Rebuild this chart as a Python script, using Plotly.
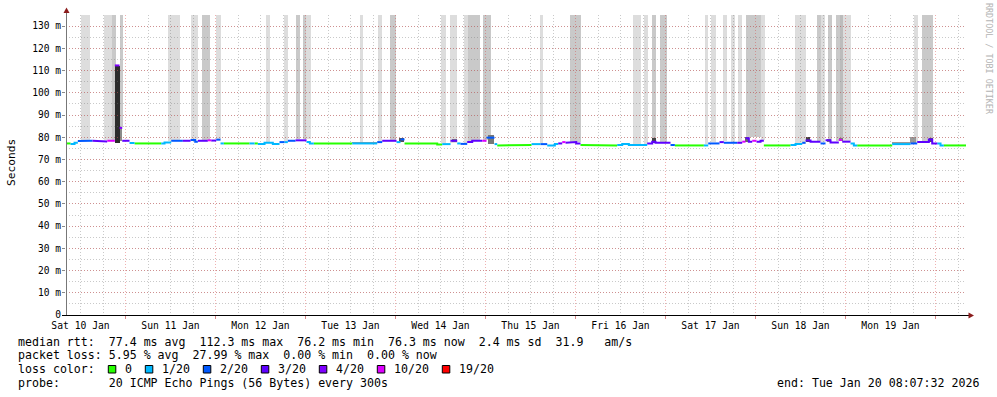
import numpy as np
import pandas as pd
import plotly.graph_objects as go

# ---------------- data ----------------
WINDOW_START = "2026-01-10 08:07:32"
WINDOW_END = "2026-01-20 08:07:32"

# median RTT step series: start time of each step, value (ms), lost pings out of 20
median_start = [
    "2026-01-10 08:07:32", "2026-01-10 09:20", "2026-01-10 10:24", "2026-01-10 11:17",
    "2026-01-10 12:11", "2026-01-10 15:12", "2026-01-10 18:24", "2026-01-10 19:07",
    "2026-01-10 21:09", "2026-01-10 22:24", "2026-01-10 23:07", "2026-01-11 01:04",
    "2026-01-11 02:24", "2026-01-11 09:31", "2026-01-11 10:24", "2026-01-11 12:11",
    "2026-01-11 15:17", "2026-01-11 17:20", "2026-01-11 18:35", "2026-01-11 19:17",
    "2026-01-11 21:57", "2026-01-11 22:51", "2026-01-12 00:11", "2026-01-12 01:20",
    "2026-01-12 02:13", "2026-01-12 09:04", "2026-01-12 10:24", "2026-01-12 11:17",
    "2026-01-12 13:04", "2026-01-12 15:17", "2026-01-12 17:04", "2026-01-12 18:24",
    "2026-01-12 19:17", "2026-01-12 21:20", "2026-01-13 00:16", "2026-01-13 01:09",
    "2026-01-13 02:13", "2026-01-13 12:27", "2026-01-13 19:07", "2026-01-13 20:27",
    "2026-01-14 00:16", "2026-01-14 01:20", "2026-01-14 02:24", "2026-01-14 11:07",
    "2026-01-14 12:27", "2026-01-14 14:40", "2026-01-14 16:27", "2026-01-14 17:20",
    "2026-01-14 19:07", "2026-01-14 20:27", "2026-01-14 23:07", "2026-01-15 00:16",
    "2026-01-15 02:24", "2026-01-15 03:07", "2026-01-15 09:20", "2026-01-15 12:16",
    "2026-01-15 14:40", "2026-01-15 16:27", "2026-01-15 18:29", "2026-01-15 19:23",
    "2026-01-15 20:27", "2026-01-15 21:20", "2026-01-15 23:17", "2026-01-16 00:11",
    "2026-01-16 01:20", "2026-01-16 02:13", "2026-01-16 11:07", "2026-01-16 12:27",
    "2026-01-16 14:13", "2026-01-16 19:07", "2026-01-16 20:27", "2026-01-16 21:20",
    "2026-01-17 01:20", "2026-01-17 02:29", "2026-01-17 10:13", "2026-01-17 11:23",
    "2026-01-17 14:24", "2026-01-17 15:33", "2026-01-17 19:07", "2026-01-17 20:27",
    "2026-01-17 21:20", "2026-01-17 22:13", "2026-01-17 23:07", "2026-01-18 00:16",
    "2026-01-18 01:20", "2026-01-18 02:13", "2026-01-18 09:20", "2026-01-18 10:40",
    "2026-01-18 12:27", "2026-01-18 13:20", "2026-01-18 14:40", "2026-01-18 17:20",
    "2026-01-18 18:40", "2026-01-18 20:00", "2026-01-18 22:13", "2026-01-18 23:07",
    "2026-01-19 01:20", "2026-01-19 02:13", "2026-01-19 03:07", "2026-01-19 12:27",
    "2026-01-19 17:20", "2026-01-19 19:07", "2026-01-19 22:13", "2026-01-19 23:07",
    "2026-01-20 00:27", "2026-01-20 01:20", "2026-01-20 02:13",
]
median_ms = [
    77.2, 76.9, 77.5, 78.3, 78.4, 78.4, 78.1, 78.4,
    112.3, 84.2, 78.4, 77.4, 77.2, 77.2, 77.6, 78.4,
    78.4, 78.7, 78.0, 78.4, 78.6, 78.5, 78.9, 77.2,
    77.2, 77.2, 77.2, 77.0, 77.5, 77.0, 77.8, 77.8,
    78.4, 78.6, 77.8, 77.2, 77.2, 77.2, 77.8, 78.4,
    77.8, 79.0, 77.2, 76.7, 76.9, 78.4, 77.2, 77.0,
    77.8, 78.4, 78.4, 79.8, 76.9, 76.3, 76.5, 76.9,
    76.9, 76.3, 76.9, 77.2, 77.8, 77.5, 77.8, 77.2,
    76.5, 76.3, 76.5, 76.9, 76.5, 77.2, 78.0, 77.5,
    76.5, 76.3, 76.3, 77.2, 77.8, 77.5, 77.5, 78.0,
    79.5, 78.0, 78.4, 78.0, 78.4, 76.3, 76.5, 76.9,
    77.5, 78.5, 78.0, 77.2, 78.6, 77.6, 78.8, 78.0,
    77.2, 76.3, 76.3, 76.9, 77.2, 77.8, 79.0, 77.2,
    77.2, 76.3, 76.3,
]
median_loss = [
    0, 1, 1, 2, 2, 3, 3, 10,
    4, 4, 3, 1, 0, 1, 1, 2,
    3, 2, 2, 3, 10, 3, 2, 1,
    0, 1, 0, 1, 1, 1, 2, 1,
    2, 3, 1, 1, 0, 1, 2, 3,
    1, 2, 0, 0, 1, 3, 1, 2,
    3, 3, 10, 2, 1, 0, 0, 1,
    2, 1, 1, 3, 10, 3, 3, 3,
    0, 0, 1, 1, 1, 3, 3, 3,
    2, 0, 1, 2, 3, 2, 3, 10,
    3, 3, 10, 3, 3, 0, 1, 1,
    2, 3, 3, 2, 3, 3, 10, 3,
    1, 1, 0, 1, 2, 3, 3, 3,
    1, 1, 0,
]

loss_levels = [0, 1, 2, 3, 4, 10, 19]
loss_labels = ["0", "1/20", "2/20", "3/20", "4/20", "10/20", "19/20"]
loss_colors = ["#26ff00", "#00b8ff", "#0059ff", "#5e00ff", "#7e00ff", "#dd00ff", "#ff0000"]

# smoke (ping spread) bands that run off the top of the scale
SMOKE_TOP_MS = 150.0
smoke_start = [
    "2026-01-10 12:11", "2026-01-10 18:19", "2026-01-10 20:16", "2026-01-10 22:24",
    "2026-01-11 11:12", "2026-01-11 17:20", "2026-01-11 20:16", "2026-01-12 00:05",
    "2026-01-12 13:20", "2026-01-12 18:19", "2026-01-12 21:20", "2026-01-12 23:12",
    "2026-01-13 00:00", "2026-01-13 14:24", "2026-01-13 19:12", "2026-01-13 22:24",
    "2026-01-14 12:11", "2026-01-14 14:24", "2026-01-14 18:19", "2026-01-14 19:12",
    "2026-01-14 23:12", "2026-01-15 14:24", "2026-01-15 22:24", "2026-01-16 15:12",
    "2026-01-16 18:08", "2026-01-16 20:16", "2026-01-16 22:24", "2026-01-17 10:24",
    "2026-01-17 12:11", "2026-01-17 15:12", "2026-01-17 17:20", "2026-01-17 19:12",
    "2026-01-17 21:20", "2026-01-18 01:20", "2026-01-18 10:24", "2026-01-18 16:16",
    "2026-01-18 17:20", "2026-01-18 19:12", "2026-01-18 21:20", "2026-01-18 22:24",
    "2026-01-18 23:12", "2026-01-19 18:08", "2026-01-19 20:16",
]
smoke_end = [
    "2026-01-10 14:24", "2026-01-10 20:16", "2026-01-10 21:20", "2026-01-10 23:12",
    "2026-01-11 14:24", "2026-01-11 19:12", "2026-01-11 22:24", "2026-01-12 01:20",
    "2026-01-12 14:24", "2026-01-12 19:12", "2026-01-12 22:24", "2026-01-13 00:00",
    "2026-01-13 01:20", "2026-01-13 15:12", "2026-01-13 20:16", "2026-01-14 00:11",
    "2026-01-14 13:20", "2026-01-14 16:16", "2026-01-14 19:12", "2026-01-14 22:24",
    "2026-01-15 01:20", "2026-01-15 15:12", "2026-01-16 01:20", "2026-01-16 17:20",
    "2026-01-16 19:12", "2026-01-16 21:20", "2026-01-17 00:16", "2026-01-17 11:12",
    "2026-01-17 13:20", "2026-01-17 16:16", "2026-01-17 18:24", "2026-01-17 20:16",
    "2026-01-18 01:20", "2026-01-18 02:24", "2026-01-18 13:20", "2026-01-18 17:20",
    "2026-01-18 18:24", "2026-01-18 20:16", "2026-01-18 22:24", "2026-01-18 23:12",
    "2026-01-19 01:20", "2026-01-19 19:12", "2026-01-19 23:12",
]
smoke_density = [
    1, 1, 2, 2, 1, 1, 2, 1, 1, 1, 2, 2, 1, 1, 1, 2, 1, 1, 1, 2, 2, 1, 2, 1,
    1, 2, 2, 1, 1, 1, 1, 1, 2, 1, 1, 2, 1, 2, 2, 3, 1, 1, 2,
]
smoke_shades = {1: "#dddddd", 2: "#c9c9c9", 3: "#bcbcbc"}

# dense smoke close to the median
dense_start = ["2026-01-10 21:09", "2026-01-10 22:24", "2026-01-14 00:48", "2026-01-14 14:56",
               "2026-01-15 00:32", "2026-01-16 20:16", "2026-01-17 21:04", "2026-01-18 13:20",
               "2026-01-18 18:56", "2026-01-18 22:08", "2026-01-19 17:04", "2026-01-19 22:08",
               "2026-01-13 12:27", "2026-01-19 12:27"]
dense_end = ["2026-01-10 22:24", "2026-01-10 23:07", "2026-01-14 02:08", "2026-01-14 16:16",
             "2026-01-15 02:08", "2026-01-16 21:20", "2026-01-17 22:08", "2026-01-18 14:24",
             "2026-01-18 20:00", "2026-01-18 23:12", "2026-01-19 18:40", "2026-01-19 23:12",
             "2026-01-13 19:07", "2026-01-19 17:04"]
dense_low = [77.5, 78.4, 77.8, 77.8, 77.0, 77.5, 78.0, 78.0, 78.0, 78.2, 77.2, 77.8, 77.2, 76.9]
dense_high = [112.0, 84.0, 79.8, 79.2, 80.8, 79.5, 80.2, 80.3, 79.2, 79.6, 80.0, 79.5, 78.0, 77.8]
dense_color = ["#2c2c2c", "#8a8a8a", "#555555", "#777777", "#777777", "#444444", "#666666",
               "#444444", "#777777", "#777777", "#999999", "#555555", "#9a9a9a", "#9a9a9a"]

y_tick_vals = list(range(0, 131, 10))
y_tick_text = ["0"] + [f"{v} m" for v in y_tick_vals[1:]]

stats_median = ["77.4 ms avg", "112.3 ms max", "76.2 ms min", "76.3 ms now", "2.4 ms sd", "31.9   am/s"]
stats_loss = ["5.95 % avg", "27.99 % max", "0.00 % min", "0.00 % now"]
probe_text = "20 ICMP Echo Pings (56 Bytes) every 300s"
end_text = "end: Tue Jan 20 08:07:32 2026"

# ---------------- figure ----------------
W, H = 997, 397
L, R, T, B = 66, 31, 15, 82
PW, PH = W - L - R, H - T - B
MONO = "DejaVu Sans Mono"
MAX_STEP_JOIN = 3.0  # steps larger than this (ms) are not joined by a vertical stroke


def to_dt(v):
    return pd.to_datetime(v, format="ISO8601")


def px(x):
    return (x - L) / PW


def py(y):
    return (T + PH - y) / PH


def nb(s):
    return s.replace(" ", "\u00a0")


fig = go.Figure()

t_med = to_dt(median_start)
med_arr = np.array(median_ms)


def median_at(ts):
    idx = np.searchsorted(t_med.values, np.datetime64(ts), side="right") - 1
    return float(med_arr[max(idx, 0)])


# smoke bands (bottom subplot, below the grid)
s0 = to_dt(smoke_start)
s1 = to_dt(smoke_end)
s_low = [median_at(t) + 0.5 for t in s0]
fig.add_trace(go.Bar(
    x=s0 + (s1 - s0) / 2,
    y=[SMOKE_TOP_MS - lo for lo in s_low],
    base=s_low,
    width=[(b - a).total_seconds() * 1000 for a, b in zip(s0, s1)],
    marker=dict(color=[smoke_shades[d] for d in smoke_density], line=dict(width=0)),
    xaxis="x", yaxis="y", showlegend=False, hoverinfo="skip",
))
d0 = to_dt(dense_start)
d1 = to_dt(dense_end)
fig.add_trace(go.Bar(
    x=d0 + (d1 - d0) / 2,
    y=[h - lo for h, lo in zip(dense_high, dense_low)],
    base=dense_low,
    width=[(b - a).total_seconds() * 1000 for a, b in zip(d0, d1)],
    marker=dict(color=dense_color, line=dict(width=0)),
    xaxis="x", yaxis="y", showlegend=False, hoverinfo="skip",
))

# median line, coloured by loss (top subplot, above the grid)
t_edges = list(to_dt(median_start + [WINDOW_END]))
for lvl, col in zip(loss_levels, loss_colors):
    xs, ys = [], []
    for i, (v, lo) in enumerate(zip(median_ms, median_loss)):
        if lo != lvl:
            continue
        joined = (i > 0 and median_loss[i - 1] == lvl
                  and abs(median_ms[i - 1] - v) <= MAX_STEP_JOIN)
        if not joined:
            xs.append(None)
            ys.append(None)
        xs += [t_edges[i], t_edges[i + 1]]
        ys += [v, v]
    if not xs:
        continue
    fig.add_trace(go.Scatter(
        x=xs, y=ys, mode="lines", line=dict(color=col, width=2),
        xaxis="x2", yaxis="y2", showlegend=False, hoverinfo="skip", connectgaps=False,
    ))

xr = [WINDOW_START, WINDOW_END]
yr = [0, 135]
grid_major = "rgba(215,60,60,0.40)"
grid_minor = "rgba(120,120,120,0.40)"
dash = "1px,2px"

fig.update_layout(
    width=W, height=H,
    margin=dict(l=L, r=R, t=T, b=B, pad=0),
    paper_bgcolor="white", plot_bgcolor="rgba(0,0,0,0)",
    barmode="overlay", bargap=0,
    showlegend=False,
    font=dict(family=MONO, size=10, color="#000000"),
    xaxis=dict(type="date", range=xr, domain=[0, 1], anchor="y", visible=False, fixedrange=True),
    yaxis=dict(range=yr, domain=[0, 1], anchor="x", visible=False, fixedrange=True),
    xaxis2=dict(
        type="date", range=xr, domain=[0, 1], anchor="y2",
        tickmode="linear", tick0="2026-01-10", dtick=86400000,
        ticklabelmode="period", tickformat="%a %d %b",
        tickfont=dict(family=MONO, size=9.7, color="#000000"),
        showgrid=True, gridcolor=grid_major, griddash=dash, gridwidth=1,
        ticks="outside", ticklen=3, tickcolor="#d88a8a", ticklabelstandoff=-2,
        minor=dict(tick0="2026-01-10", dtick=21600000, showgrid=True,
                   gridcolor=grid_minor, griddash=dash, gridwidth=1, ticks=""),
        showline=False, zeroline=False, fixedrange=True, automargin=False,
    ),
    yaxis2=dict(
        range=yr, domain=[0, 1], anchor="x2",
        tickmode="array", tickvals=y_tick_vals, ticktext=y_tick_text,
        tickfont=dict(family=MONO, size=9.6, color="#000000"),
        showgrid=True, gridcolor=grid_major, griddash=dash, gridwidth=1,
        ticks="outside", ticklen=3, tickcolor="#888888", ticklabelstandoff=-1,
        minor=dict(tickmode="linear", tick0=0, dtick=5, showgrid=True,
                   gridcolor=grid_minor, griddash=dash, gridwidth=1, ticks=""),
        showline=False, zeroline=False, fixedrange=True, automargin=False,
    ),
)

shapes = []
# axis lines with arrows
shapes.append(dict(type="line", xref="paper", yref="paper", x0=px(66.5), x1=px(66.5),
                   y0=py(315), y1=py(12), line=dict(color="#777777", width=1), layer="above"))
shapes.append(dict(type="line", xref="paper", yref="paper", x0=px(62), x1=px(969),
                   y0=py(315.5), y1=py(315.5), line=dict(color="#000000", width=1), layer="above"))
shapes.append(dict(type="path", xref="paper", yref="paper",
                   path=f"M {px(63.5)} {py(13)} L {px(69.5)} {py(13)} L {px(66.5)} {py(7.5)} Z",
                   fillcolor="#8b1c1c", line=dict(width=0), layer="above"))
shapes.append(dict(type="path", xref="paper", yref="paper",
                   path=f"M {px(968.5)} {py(312.5)} L {px(968.5)} {py(318.5)} L {px(974)} {py(315.5)} Z",
                   fillcolor="#8b1c1c", line=dict(width=0), layer="above"))

annotations = []
CW = 7.0  # legend character advance
LX = 16
rows_y = [341.5, 355.3, 369.1, 382.9]
annotations.append(dict(xref="paper", yref="paper", x=px(LX), y=py(rows_y[0]), xanchor="left",
                        yanchor="middle", showarrow=False, font=dict(family=MONO, size=11.6),
                        text=nb("median rtt:  " + "  ".join(stats_median))))
annotations.append(dict(xref="paper", yref="paper", x=px(LX), y=py(rows_y[1]), xanchor="left",
                        yanchor="middle", showarrow=False, font=dict(family=MONO, size=11.6),
                        text=nb("packet loss: " + "  ".join(stats_loss))))
annotations.append(dict(xref="paper", yref="paper", x=px(LX), y=py(rows_y[2]), xanchor="left",
                        yanchor="middle", showarrow=False, font=dict(family=MONO, size=11.6),
                        text=nb("loss color:")))
annotations.append(dict(xref="paper", yref="paper", x=px(LX), y=py(rows_y[3]), xanchor="left",
                        yanchor="middle", showarrow=False, font=dict(family=MONO, size=11.6),
                        text=nb("probe:       " + probe_text)))
annotations.append(dict(xref="paper", yref="paper", x=px(980.5), y=py(rows_y[3]), xanchor="right",
                        yanchor="middle", showarrow=False, font=dict(family=MONO, size=11.6),
                        text=nb(end_text)))

bx = 108.3
for lab, col in zip(loss_labels, loss_colors):
    shapes.append(dict(type="rect", xref="paper", yref="paper", x0=px(bx), x1=px(bx + 7.5),
                       y0=py(373.0), y1=py(365.5), fillcolor=col,
                       line=dict(color="#000000", width=1), layer="above"))
    annotations.append(dict(xref="paper", yref="paper", x=px(bx + 14.5), y=py(rows_y[2]),
                            xanchor="left", yanchor="middle", showarrow=False,
                            font=dict(family=MONO, size=11.6), text=lab))
    bx = bx + 14.5 + len(lab) * CW + 15.5

annotations.append(dict(xref="paper", yref="paper", x=px(11), y=py(163), textangle=-90,
                        xanchor="center", yanchor="middle", showarrow=False,
                        font=dict(family=MONO, size=11.2), text="Seconds"))
annotations.append(dict(xref="paper", yref="paper", x=px(988.5), y=py(59.5), textangle=90,
                        xanchor="center", yanchor="middle", showarrow=False,
                        font=dict(family=MONO, size=8.4, color="#b4b4b4"),
                        text=nb("RRDTOOL / TOBI OETIKER")))

fig.update_layout(shapes=shapes, annotations=annotations)

fig.write_html(
    "out.html",
    config={"displayModeBar": False, "staticPlot": True},
    post_script="document.body.style.margin='0';document.body.style.overflow='hidden';",
)
